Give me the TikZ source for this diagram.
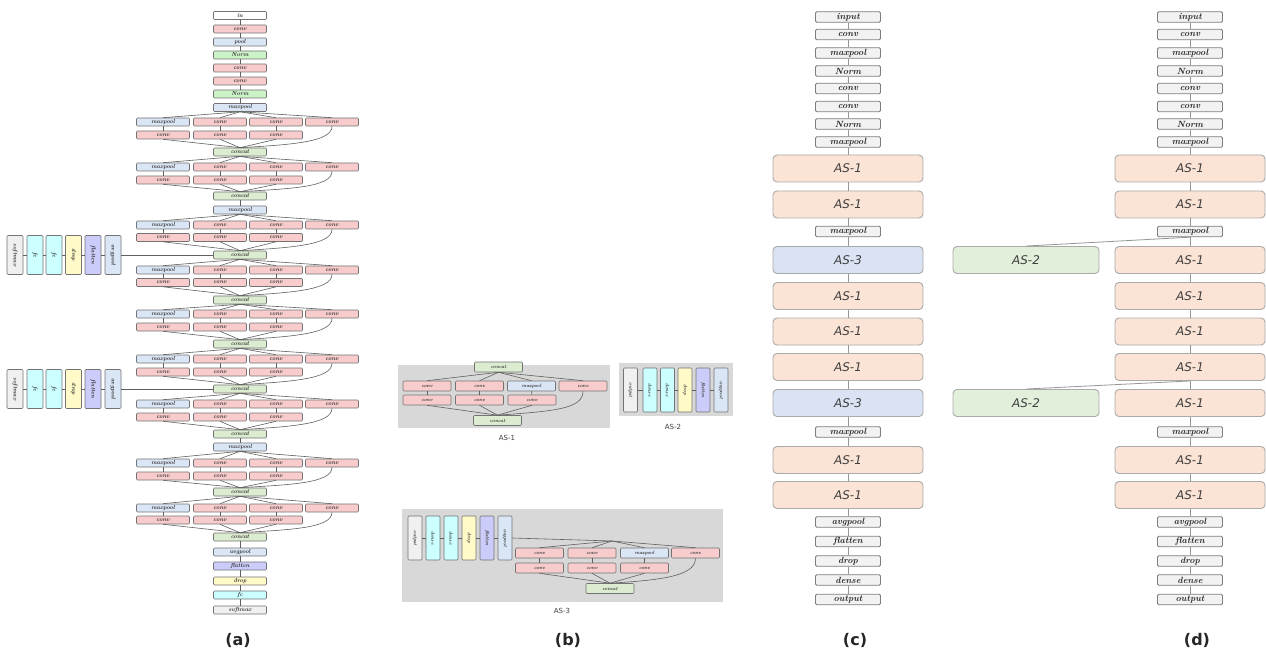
\documentclass[tikz,border=0pt]{standalone}
\usepackage{fontspec}
\newfontfamily\dvsans{DejaVu Sans}
\definecolor{convc}{RGB}{248,204,204}
\definecolor{poolc}{RGB}{218,230,246}
\definecolor{normc}{RGB}{204,242,200}
\definecolor{catc}{RGB}{220,236,208}
\definecolor{smc}{RGB}{240,240,240}
\definecolor{fcc}{RGB}{204,255,255}
\definecolor{dropc}{RGB}{255,250,200}
\definecolor{flatc}{RGB}{204,204,250}
\definecolor{boxline}{RGB}{115,115,115}
\definecolor{lnc}{RGB}{95,95,95}
\definecolor{panelg}{RGB}{216,216,216}
\definecolor{smallfill}{RGB}{242,242,242}
\definecolor{sline}{RGB}{125,125,125}
\definecolor{bigline}{RGB}{170,170,170}
\definecolor{as1c}{RGB}{251,228,214}
\definecolor{as2c}{RGB}{226,239,218}
\definecolor{as3c}{RGB}{217,227,243}
\definecolor{cline}{RGB}{150,150,150}
\definecolor{txt}{RGB}{45,45,45}

% one inception block of the long network: #1 prefix, #2 source node,
% #3 first row y, #4 second row y, #5 concat y
\newcommand{\incept}[5]{%
  \node[abox,fill=poolc] (#1m1) at (163,#3) {maxpool};
  \node[abox,fill=convc] (#1c1) at (220,#3) {conv};
  \node[abox,fill=convc] (#1c2) at (276,#3) {conv};
  \node[abox,fill=convc] (#1c3) at (332,#3) {conv};
  \node[abox,fill=convc] (#1d1) at (163,#4) {conv};
  \node[abox,fill=convc] (#1d2) at (220,#4) {conv};
  \node[abox,fill=convc] (#1d3) at (276,#4) {conv};
  \node[abox,fill=catc] (#1cat) at (240,#5) {concat};
  \foreach \b in {m1,c1,c2,c3} \draw[aline] (#2.south) -- (#1\b.north);
  \draw[aline] (#1m1) -- (#1d1);
  \draw[aline] (#1c1) -- (#1d2);
  \draw[aline] (#1c2) -- (#1d3);
  \foreach \b in {d1,d2,d3} \draw[aline] (#1\b.south) -- (#1cat.north);
  \draw[aline] (#1c3.south) .. controls +(0,16) and +(50,-3) .. (#1cat.north);
}

% side classifier of the long network: #1 prefix, #2 concat node, #3 y
\newcommand{\sidehead}[3]{%
  \node[auxa,fill=smc]   (#1sm) at (15,#3)   {\rotatebox{-90}{softmax}};
  \node[auxa,fill=fcc]   (#1f1) at (35,#3)   {\rotatebox{-90}{fc}};
  \node[auxa,fill=fcc]   (#1f2) at (54,#3)   {\rotatebox{-90}{fc}};
  \node[auxa,fill=dropc] (#1dr) at (73.5,#3) {\rotatebox{-90}{drop}};
  \node[auxa,fill=flatc] (#1fl) at (93,#3)   {\rotatebox{-90}{flatten}};
  \node[auxa,fill=poolc] (#1av) at (113,#3)  {\rotatebox{-90}{avgpool}};
  \draw[aline] (#2) -- (#1av) -- (#1fl) -- (#1dr) -- (#1f2) -- (#1f1) -- (#1sm);
}

\begin{document}
\begin{tikzpicture}[x=1pt,y=-1pt,
  base/.style={draw=boxline, line width=0.6pt, rounded corners=1pt, inner sep=0pt, text=txt},
  abox/.style={base, minimum width=53pt, minimum height=8pt, font=\fontsize{5.8}{6}\selectfont\bfseries\itshape},
  auxa/.style={base, minimum width=16pt, minimum height=39pt, font=\fontsize{5.8}{6}\selectfont\bfseries\itshape},
  bbox/.style={base, minimum width=48pt, minimum height=10pt, font=\fontsize{4.8}{5}\selectfont\bfseries\itshape},
  baux/.style={base, minimum width=14pt, minimum height=44pt, font=\fontsize{4.8}{5}\selectfont\bfseries\itshape},
  aline/.style={draw=lnc, line width=0.6pt},
  sbox/.style={draw=sline, line width=0.9pt, rounded corners=1.2pt, fill=smallfill, text=black!85,
    minimum width=65pt, minimum height=10.5pt, inner sep=0pt, font=\fontsize{9}{9}\selectfont\bfseries\itshape},
  big/.style={draw=bigline, line width=0.9pt, rounded corners=4pt, minimum width=150pt, minimum height=27pt,
    inner sep=0pt, text=black!75, font=\dvsans\fontsize{12}{12}\selectfont\itshape},
  cl/.style={draw=cline, line width=0.8pt},
  panel/.style={font=\dvsans\bfseries\fontsize{16}{16}\selectfont, text=black!85},
  sublabel/.style={font=\dvsans\fontsize{7}{7}\selectfont, text=black!75}]
\useasboundingbox (0,0) rectangle (1266,652);
\fill[white] (0,0) rectangle (1266,652);

% ---------------- (a) the long network ----------------
\node[abox,fill=white] (a0) at (240,15.5) {in};
\node[abox,fill=convc] (a1) at (240,29)   {conv};
\node[abox,fill=poolc] (a2) at (240,42)   {pool};
\node[abox,fill=normc] (a3) at (240,55)   {Norm};
\node[abox,fill=convc] (a4) at (240,68)   {conv};
\node[abox,fill=convc] (a5) at (240,81)   {conv};
\node[abox,fill=normc] (a6) at (240,94)   {Norm};
\node[abox,fill=poolc] (a7) at (240,107.5){maxpool};
\draw[aline] (a0) -- (a1) -- (a2) -- (a3) -- (a4) -- (a5) -- (a6) -- (a7);

\incept{iA}{a7}{122}{135}{152}
\incept{iB}{iAcat}{167}{180}{196}
\node[abox,fill=poolc] (a8) at (240,210) {maxpool};
\draw[aline] (iBcat) -- (a8);
\incept{iC}{a8}{225}{237.5}{255}
\sidehead{xA}{iCcat}{255}
\incept{iD}{iCcat}{270}{282.5}{300}
\incept{iE}{iDcat}{314}{327}{344}
\incept{iF}{iEcat}{359}{372}{389}
\sidehead{xB}{iFcat}{389}
\incept{iG}{iFcat}{404}{417}{434}
\node[abox,fill=poolc] (a9) at (240,447) {maxpool};
\draw[aline] (iGcat) -- (a9);
\incept{iH}{a9}{463}{476}{492}
\incept{iI}{iHcat}{508}{520}{537}
\node[abox,fill=poolc] (a10) at (240,552) {avgpool};
\node[abox,fill=flatc] (a11) at (240,566) {flatten};
\node[abox,fill=dropc] (a12) at (240,581) {drop};
\node[abox,fill=fcc]   (a13) at (240,595) {fc};
\node[abox,fill=smc]   (a14) at (240,610) {softmax};
\draw[aline] (iIcat) -- (a10) -- (a11) -- (a12) -- (a13) -- (a14);
\node[panel] (la) at (238,640) {(a)};

% ---------------- (b) the three building blocks ----------------
% AS-1
\fill[panelg] (398,365) rectangle (610,428);
\node[bbox,fill=catc]  (p0) at (498.5,367) {concat};
\node[bbox,fill=convc] (p1) at (427,386)   {conv};
\node[bbox,fill=convc] (p2) at (479.5,386) {conv};
\node[bbox,fill=poolc] (p3) at (531.5,386) {maxpool};
\node[bbox,fill=convc] (p4) at (583,386)   {conv};
\node[bbox,fill=convc] (q1) at (427,400)   {conv};
\node[bbox,fill=convc] (q2) at (479.5,400) {conv};
\node[bbox,fill=convc] (q3) at (532,400)   {conv};
\node[bbox,fill=catc]  (p5) at (497.5,420.5) {concat};
\foreach \b in {p1,p2,p3,p4} \draw[aline] (p0.south) -- (\b.north);
\draw[aline] (p1) -- (q1);
\draw[aline] (p2) -- (q2);
\draw[aline] (p3) -- (q3);
\foreach \b in {q1,q2,q3} \draw[aline] (\b.south) -- (p5.north);
\draw[aline] (p4.south) .. controls +(0,18) and +(55,-4) .. (p5.north);
\node[sublabel] (l1) at (507,438) {AS-1};

% AS-2
\fill[panelg] (619,363) rectangle (733,416);
\node[baux,fill=smc]   (r1) at (630.5,390) {\rotatebox{-90}{output}};
\node[baux,fill=fcc]   (r2) at (650,390)   {\rotatebox{-90}{dense}};
\node[baux,fill=fcc]   (r3) at (667.5,390) {\rotatebox{-90}{dense}};
\node[baux,fill=dropc] (r4) at (685,390)   {\rotatebox{-90}{drop}};
\node[baux,fill=flatc] (r5) at (703,390)   {\rotatebox{-90}{flatten}};
\node[baux,fill=poolc] (r6) at (721,390)   {\rotatebox{-90}{avgpool}};
\draw[aline] (r6) -- (r5) -- (r4) -- (r3) -- (r2) -- (r1);
\node[sublabel] (l2) at (673,427) {AS-2};

% AS-3
\fill[panelg] (402,509) rectangle (723,602);
\node[baux,fill=smc]   (s1) at (415,538) {\rotatebox{-90}{output}};
\node[baux,fill=fcc]   (s2) at (433,538) {\rotatebox{-90}{dense}};
\node[baux,fill=fcc]   (s3) at (451,538) {\rotatebox{-90}{dense}};
\node[baux,fill=dropc] (s4) at (469,538) {\rotatebox{-90}{drop}};
\node[baux,fill=flatc] (s5) at (487,538) {\rotatebox{-90}{flatten}};
\node[baux,fill=poolc] (s6) at (505,538) {\rotatebox{-90}{avgpool}};
\draw[aline] (s6) -- (s5) -- (s4) -- (s3) -- (s2) -- (s1);
\coordinate (hub) at (612,541);
\node[bbox,fill=convc] (t1) at (539.5,553) {conv};
\node[bbox,fill=convc] (t2) at (592,553)   {conv};
\node[bbox,fill=poolc] (t3) at (644.5,553) {maxpool};
\node[bbox,fill=convc] (t4) at (695.5,553) {conv};
\node[bbox,fill=convc] (u1) at (539.5,568) {conv};
\node[bbox,fill=convc] (u2) at (592,568)   {conv};
\node[bbox,fill=convc] (u3) at (644.5,568) {conv};
\node[bbox,fill=catc]  (t5) at (610,588.5) {concat};
\draw[aline] (s6.east) -- (hub);
\foreach \b in {t1,t2,t3,t4} \draw[aline] (hub) -- (\b.north);
\draw[aline] (t1) -- (u1);
\draw[aline] (t2) -- (u2);
\draw[aline] (t3) -- (u3);
\foreach \b in {u1,u2,u3} \draw[aline] (\b.south) -- (t5.north);
\draw[aline] (t4.south) .. controls +(0,18) and +(50,-3) .. (t5.north);
\node[sublabel] (l3) at (562,611) {AS-3};
\node[panel] (lb) at (568,640) {(b)};

% ---------------- (c) and (d) stacked blocks ----------------
\foreach \n/\t/\y in {1/input/17, 2/conv/34.5, 3/maxpool/53, 4/Norm/71, 5/conv/88.5,
                      6/conv/106.5, 7/Norm/124, 8/maxpool/142, m1/maxpool/231.5, m2/maxpool/432,
                      9/avgpool/522, 10/flatten/541.5, 11/drop/561, 12/dense/580, 13/output/599.5} {
  \node[sbox] (c\n) at (848,\y) {\t};
  \node[sbox] (d\n) at (1190,\y) {\t};
}
% column (c)
\node[big,fill=as1c] (cA1) at (848,168.5) {AS-1};
\node[big,fill=as1c] (cA2) at (848,204.5) {AS-1};
\node[big,fill=as3c] (cB1) at (848,260)   {AS-3};
\node[big,fill=as1c] (cA3) at (848,296)   {AS-1};
\node[big,fill=as1c] (cA4) at (848,331.5) {AS-1};
\node[big,fill=as1c] (cA5) at (848,367)   {AS-1};
\node[big,fill=as3c] (cB2) at (848,403)   {AS-3};
\node[big,fill=as1c] (cA6) at (848,460)   {AS-1};
\node[big,fill=as1c] (cA7) at (848,495)   {AS-1};
\draw[cl] (c1) -- (c2) -- (c3) -- (c4) -- (c5) -- (c6) -- (c7) -- (c8) -- (cA1) -- (cA2) -- (cm1)
  -- (cB1) -- (cA3) -- (cA4) -- (cA5) -- (cB2) -- (cm2) -- (cA6) -- (cA7) -- (c9) -- (c10) -- (c11)
  -- (c12) -- (c13);
\node[panel] (lc) at (855,640) {(c)};

% column (d)
\node[big,fill=as1c] (dA1) at (1190,168.5) {AS-1};
\node[big,fill=as1c] (dA2) at (1190,204.5) {AS-1};
\node[big,fill=as1c] (dA3) at (1190,260)   {AS-1};
\node[big,fill=as1c] (dA4) at (1190,296)   {AS-1};
\node[big,fill=as1c] (dA5) at (1190,331.5) {AS-1};
\node[big,fill=as1c] (dA6) at (1190,367)   {AS-1};
\node[big,fill=as1c] (dA7) at (1190,403)   {AS-1};
\node[big,fill=as1c] (dA8) at (1190,460)   {AS-1};
\node[big,fill=as1c] (dA9) at (1190,495)   {AS-1};
\node[big,fill=as2c,minimum width=146pt] (dS1) at (1026,260) {AS-2};
\node[big,fill=as2c,minimum width=146pt] (dS2) at (1026,403) {AS-2};
\draw[cl] (d1) -- (d2) -- (d3) -- (d4) -- (d5) -- (d6) -- (d7) -- (d8) -- (dA1) -- (dA2) -- (dm1)
  -- (dA3) -- (dA4) -- (dA5) -- (dA6) -- (dA7) -- (dm2) -- (dA8) -- (dA9) -- (d9) -- (d10) -- (d11)
  -- (d12) -- (d13);
\draw[cl] (dm1.south) -- (dS1.north);
\draw[cl] (dA6.south) -- (dS2.north);
\node[panel] (ld) at (1197,640) {(d)};
\end{tikzpicture}
\end{document}
